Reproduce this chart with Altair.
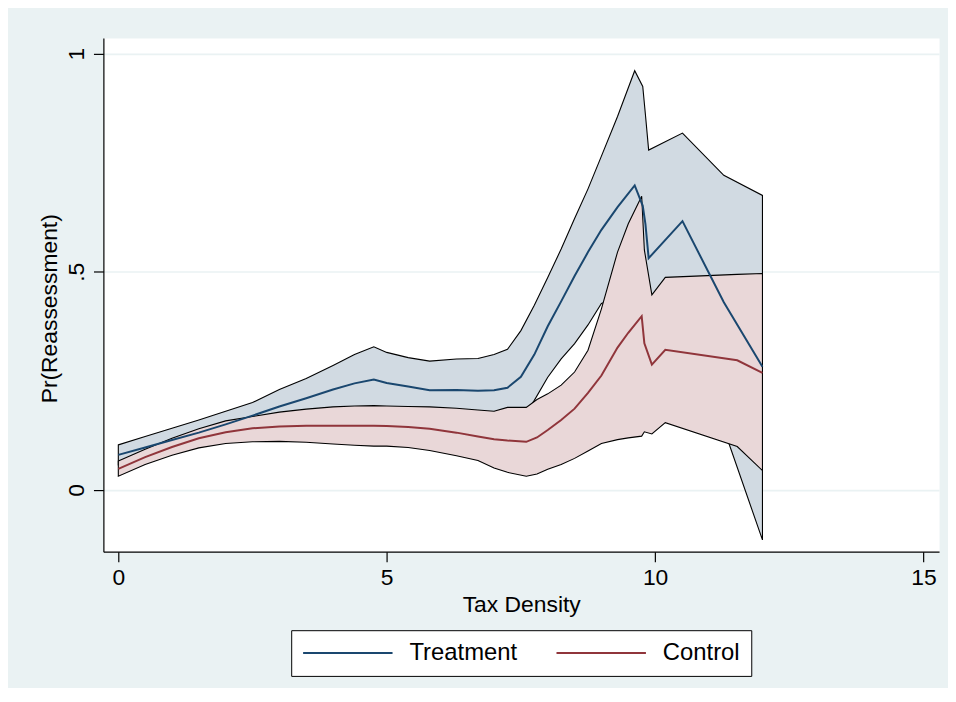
import altair as alt
import pandas as pd

# ---------------- data ----------------
treat_x = [0, 0.5, 1, 1.5, 2, 2.5, 3, 3.5, 4, 4.4, 4.76, 5.0, 5.4, 5.8, 6.3, 6.7,
           7.0, 7.25, 7.5, 7.75, 8.0, 8.25, 8.5, 8.75, 9.0, 9.3, 9.62, 9.77, 9.82,
           9.88, 10.51, 11.28, 12.0]
treat_mean = [0.080, 0.097, 0.114, 0.131, 0.150, 0.170, 0.191, 0.210, 0.230, 0.244,
              0.253, 0.245, 0.237, 0.228, 0.229, 0.227, 0.228, 0.234, 0.259, 0.310,
              0.375, 0.432, 0.490, 0.545, 0.596, 0.648, 0.698, 0.651, 0.609, 0.531,
              0.616, 0.430, 0.282]
treat_hi = [0.103, 0.122, 0.141, 0.160, 0.180, 0.200, 0.230, 0.255, 0.285, 0.310,
            0.328, 0.315, 0.303, 0.295, 0.300, 0.301, 0.310, 0.322, 0.365, 0.423,
            0.487, 0.552, 0.622, 0.690, 0.765, 0.856, 0.961, 0.925, 0.860, 0.779,
            0.818, 0.721, 0.675]
treat_lo = [0.057, 0.072, 0.087, 0.102, 0.120, 0.140, 0.152, 0.165, 0.175, 0.178,
            0.178, 0.175, 0.171, 0.161, 0.158, 0.153, 0.146, 0.146, 0.160, 0.205,
            0.258, 0.300, 0.335, 0.378, 0.427, 0.440, 0.435, 0.377, 0.360, 0.283,
            0.414, 0.140, -0.115]

ctrl_x = [0, 0.5, 1, 1.5, 2, 2.5, 3, 3.5, 4, 4.4, 4.76, 5.0, 5.4, 5.8, 6.3, 6.7,
          7.0, 7.25, 7.6, 7.8, 8.0, 8.25, 8.5, 8.75, 9.0, 9.3, 9.5, 9.75, 9.8,
          9.94, 10.19, 11.53, 12.0]
ctrl_mean = [0.048, 0.075, 0.098, 0.118, 0.132, 0.141, 0.145, 0.147, 0.147, 0.147,
             0.147, 0.146, 0.144, 0.140, 0.131, 0.122, 0.116, 0.113, 0.110, 0.120,
             0.137, 0.160, 0.186, 0.222, 0.262, 0.326, 0.360, 0.398, 0.336, 0.287,
             0.321, 0.297, 0.268]
ctrl_hi = [0.066, 0.093, 0.118, 0.140, 0.158, 0.168, 0.178, 0.185, 0.190, 0.192,
           0.193, 0.192, 0.191, 0.190, 0.187, 0.183, 0.180, 0.189, 0.189, 0.207,
           0.220, 0.240, 0.270, 0.320, 0.415, 0.545, 0.610, 0.673, 0.550, 0.447,
           0.487, 0.494, 0.496]
ctrl_lo = [0.031, 0.058, 0.079, 0.096, 0.106, 0.110, 0.111, 0.109, 0.105, 0.102,
           0.100, 0.100, 0.097, 0.090, 0.078, 0.067, 0.050, 0.040, 0.031, 0.036,
           0.047, 0.058, 0.072, 0.089, 0.106, 0.115, 0.119, 0.123, 0.133, 0.128,
           0.154, 0.099, 0.044]

groups = ["Treatment", "Control"]
x_ticks = [0, 5, 10, 15]
y_ticks = [0, 0.5, 1]

# ---------------- tables ----------------
df_t = pd.DataFrame({"x": treat_x, "mean": treat_mean, "lo": treat_lo,
                     "hi": treat_hi, "group": groups[0]})
df_c = pd.DataFrame({"x": ctrl_x, "mean": ctrl_mean, "lo": ctrl_lo,
                     "hi": ctrl_hi, "group": groups[1]})

FONT = "Liberation Sans"
NAVY = "#1A476F"
MAROON = "#90353B"
BAND_T = "#D1DAE2"
BAND_C = "#E9D7D8"
BG = "#EAF2F3"

xscale = alt.Scale(domain=[-0.278, 15.29], nice=False, zero=False)
yscale = alt.Scale(domain=[-0.142, 1.036], nice=False, zero=False)

x_axis = alt.Axis(values=x_ticks, title="Tax Density", grid=False,
                  domainColor="black", domainWidth=1.2,
                  tickColor="black", tickSize=10, tickWidth=1.2,
                  labelFont=FONT, labelFontSize=23, labelColor="black",
                  labelBaseline="alphabetic", labelPadding=23, labelFlush=False,
                  format="d",
                  titleFont=FONT, titleFontSize=23, titleFontWeight="normal",
                  titleColor="black", titleBaseline="alphabetic", titleY=60)
y_axis = alt.Axis(values=y_ticks, title="Pr(Reassessment)", grid=True,
                  gridColor=BG, gridWidth=1.6,
                  domainColor="black", domainWidth=1.2,
                  tickColor="black", tickSize=10, tickWidth=1.2,
                  labelFont=FONT, labelFontSize=23, labelColor="black",
                  labelAngle=270, labelAlign="center", labelBaseline="alphabetic",
                  labelPadding=10, labelFlush=False,
                  labelExpr="datum.value == 0.5 ? '.5' : (datum.value == 1 ? '1' : '0')",
                  titleFont=FONT, titleFontSize=23, titleFontWeight="normal",
                  titleColor="black", titleAngle=270, titleAlign="center",
                  titleBaseline="alphabetic", titleX=-47, titleY=272)

X = alt.X("x:Q", scale=xscale, axis=x_axis)

area_t = alt.Chart(df_t).mark_area(
    fill=BAND_T, stroke="black", strokeWidth=1.1, opacity=1
).encode(x=X, y=alt.Y("hi:Q", scale=yscale, axis=y_axis), y2="lo:Q")

area_c = alt.Chart(df_c).mark_area(
    fill=BAND_C, stroke="black", strokeWidth=1.1, opacity=1
).encode(x=X, y=alt.Y("hi:Q", scale=yscale, axis=y_axis), y2="lo:Q")

# long horizontal line as legend symbol (path spans 90 px at size 400)
LEGEND_SYMBOL = "M-4.5,0L4.5,0"

color = alt.Color(
    "group:N",
    scale=alt.Scale(domain=groups, range=[NAVY, MAROON]),
    legend=alt.Legend(
        orient="none", legendX=189, legendY=596, direction="horizontal",
        title=None, fillColor="white", strokeColor="black", padding=11,
        labelFont=FONT, labelFontSize=24, labelColor="black",
        symbolType=LEGEND_SYMBOL, symbolStrokeWidth=2, symbolSize=400,
        symbolOffset=34, labelOffset=50, columnPadding=35, cornerRadius=0,
    ),
)

line_t = alt.Chart(df_t).mark_line(strokeWidth=2).encode(
    x=X, y=alt.Y("mean:Q", scale=yscale, axis=y_axis), color=color)
line_c = alt.Chart(df_c).mark_line(strokeWidth=2).encode(
    x=X, y=alt.Y("mean:Q", scale=yscale, axis=y_axis), color=color)

chart = alt.layer(area_t, area_c, line_t, line_c).properties(
    width=841, height=517,
    autosize=alt.AutoSizeParams(type="none"),
    padding={"left": 96, "top": 28, "right": 9, "bottom": 135},
    background=BG,
).configure_view(fill="white", stroke="transparent")

chart.save("out.html", embed_options={"renderer": "svg", "actions": False})
